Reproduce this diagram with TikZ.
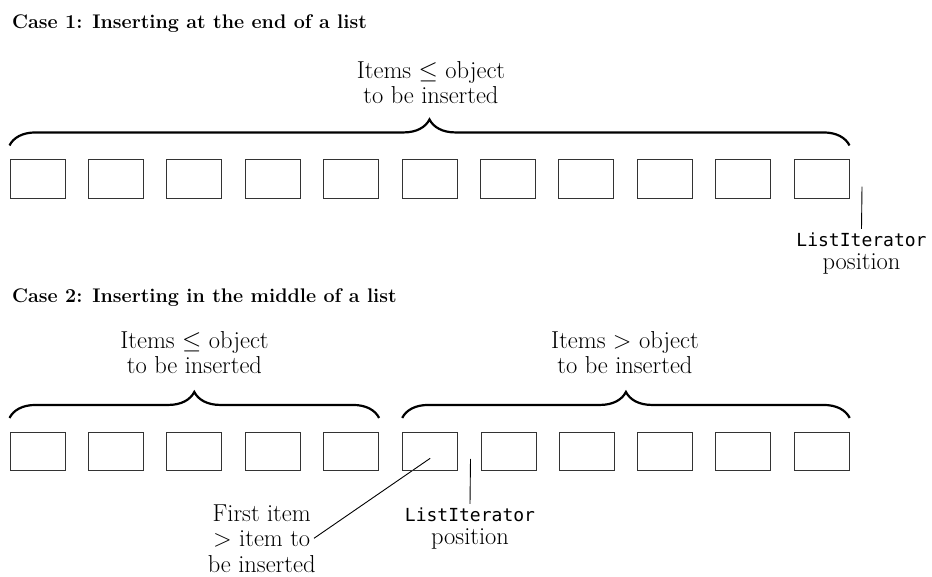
\documentclass[tikz,border=0pt]{standalone}
\usepackage{amsmath,amssymb}
\usepackage{fontspec}
\newfontfamily\codefont{DejaVu Sans Mono}
\usepackage{tikz}
\usetikzlibrary{decorations.pathreplacing}
\pgfdeclarelayer{bg}
\pgfsetlayers{bg,main}

\begin{document}
\begin{tikzpicture}[x=1pt, y=1pt,
        slot/.style={draw=black!80, line width=1pt, minimum width=55pt, minimum height=38.5pt, inner sep=0pt},
        curly/.style={decorate, decoration={brace, amplitude=26pt}, line width=2.2pt},
        heading/.style={anchor=base west, inner sep=0pt, font=\fontsize{19.7}{24}\selectfont\bfseries},
        lbl/.style={align=center, anchor=base, inner sep=0pt, font=\fontsize{24.5}{24.8}\selectfont},
        leader/.style={line width=0.9pt}]
        \useasboundingbox (0,0) rectangle (932,576);

        % case 1
        \node (h1) [heading] at (12.000000pt, 547.700000pt) {Case 1: Inserting at the end of a list};
        \node (a1) [slot] at (37.500000pt, 396.800000pt) {};
        \node (a2) [slot] at (115.900000pt, 396.800000pt) {};
        \node (a3) [slot] at (194.300000pt, 396.800000pt) {};
        \node (a4) [slot] at (272.700000pt, 396.800000pt) {};
        \node (a5) [slot] at (351.100000pt, 396.800000pt) {};
        \node (a6) [slot] at (429.500000pt, 396.800000pt) {};
        \node (a7) [slot] at (507.900000pt, 396.800000pt) {};
        \node (a8) [slot] at (586.300000pt, 396.800000pt) {};
        \node (a9) [slot] at (664.700000pt, 396.800000pt) {};
        \node (a10) [slot] at (743.100000pt, 396.800000pt) {};
        \node (a11) [slot] at (821.500000pt, 396.800000pt) {};
        \node (le1) [lbl] at (431.000000pt, 472.700000pt) {Items $\leq$ object\\to be inserted};
        \node (it1) [lbl, font=\fontsize{24.5}{23.3}\selectfont] at (861.500000pt, 306.000000pt) {{\fontsize{18}{20}\codefont ListIterator}\\position};
        \coordinate (p1) at ([xshift=12.5pt, yshift=-7.5pt]a11.east);

        % case 2
        \node (h2) [heading] at (12.000000pt, 273.700000pt) {Case 2: Inserting in the middle of a list};
        \node (b1) [slot] at (37.500000pt, 124.300000pt) {};
        \node (b2) [slot] at (115.900000pt, 124.300000pt) {};
        \node (b3) [slot] at (194.300000pt, 124.300000pt) {};
        \node (b4) [slot] at (272.700000pt, 124.300000pt) {};
        \node (b5) [slot] at (351.100000pt, 124.300000pt) {};
        \node (b6) [slot] at (430.200000pt, 124.300000pt) {};
        \node (b7) [slot] at (508.500000pt, 124.300000pt) {};
        \node (b8) [slot] at (586.800000pt, 124.300000pt) {};
        \node (b9) [slot] at (665.100000pt, 124.300000pt) {};
        \node (b10) [slot] at (743.400000pt, 124.300000pt) {};
        \node (b11) [slot] at (821.700000pt, 124.300000pt) {};
        \node (le2) [lbl] at (194.500000pt, 202.700000pt) {Items $\leq$ object\\to be inserted};
        \node (gt2) [lbl] at (625.000000pt, 202.700000pt) {Items > object\\to be inserted};
        \node (it2) [lbl, font=\fontsize{24.5}{23.3}\selectfont] at (470.000000pt, 31.000000pt) {{\fontsize{18}{20}\codefont ListIterator}\\position};
        \node (first) [lbl, font=\fontsize{24.5}{25.4}\selectfont] at (261.700000pt, 4.000000pt) {First item\\> item to\\be inserted};
        \coordinate (p2) at ([xshift=12.3pt, yshift=-7.3pt]b6.east);
        \coordinate (q2) at (314.000000pt, 37.700000pt);

        \begin{pgfonlayer}{bg}
                \draw [curly] ([yshift=14pt]a1.north west) -- ([yshift=14pt]a11.north east);
                \draw [curly] ([yshift=14pt]b1.north west) -- ([yshift=14pt]b5.north east);
                \draw [curly] ([yshift=14pt]b6.north west) -- ([yshift=14pt]b11.north east);
                \draw [leader] (p1) -- ([yshift=4pt]it1.north);
                \draw [leader] (p2) -- ([yshift=4pt]it2.north);
                \draw [leader] (q2) -- ([yshift=-6.6pt]b6.center);
        \end{pgfonlayer}
\end{tikzpicture}
\end{document}
